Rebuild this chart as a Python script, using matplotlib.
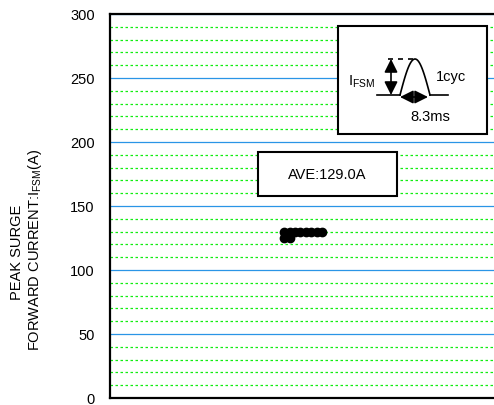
import matplotlib
matplotlib.use("Agg")
import matplotlib.pyplot as plt
import numpy as np

plt.rcParams['font.family'] = ['Liberation Sans', 'DejaVu Sans']
plt.rcParams['mathtext.fontset'] = 'custom'
plt.rcParams['mathtext.rm'] = 'Liberation Sans'

# data: sample positions and peak surge current values (A)
sample_x = [0, 1, 2, 3, 4, 5, 6, 7, 0, 1]
ifsm_values = [130, 130, 130, 130, 130, 130, 130, 130, 125, 125]
y_ticks = [0, 50, 100, 150, 200, 250, 300]
ave_label = "AVE:129.0A"

W, H = 494, 406
fig = plt.figure(figsize=(W / 100, H / 100), dpi=100)
ax = fig.add_axes([110 / W, (H - 399) / H, (W - 110 + 5) / W, 384 / H])

ax.set_ylim(0, 300)
ax.set_xlim(-32.5, 40)
ax.set_yticks(y_ticks)
minor = [v for v in range(0, 301, 10) if v % 50 != 0]
ax.set_yticks(minor, minor=True)
ax.set_xticks([])
ax.tick_params(axis='y', which='both', length=0, pad=11, labelsize=10.5)

ax.grid(True, which='major', axis='y', color='#2a95e6', lw=0.9, ls='-')
ax.grid(True, which='minor', axis='y', color='#11ee11', lw=0.9, ls=(0, (2, 2)))
ax.set_axisbelow(True)

for s in ['left', 'bottom', 'top']:
    ax.spines[s].set_linewidth(1.6)
    ax.spines[s].set_color('black')
ax.spines['right'].set_visible(False)

ax.plot(sample_x, ifsm_values, 'o', color='black', ms=6, zorder=5, clip_on=False)

def P(x, y):
    return (x / W, (H - y) / H)

tf = fig.transFigure

# AVE box
x0, y0 = P(258, 197)
x1, y1 = P(397, 153)
fig.patches.append(plt.Rectangle((x0, y0), x1 - x0, y1 - y0, transform=tf,
                                 facecolor='white', edgecolor='black', lw=1.5, zorder=10))
fig.text(*P(327.5, 175.5), ave_label, transform=tf, ha='center', va='center',
         fontsize=10.5, zorder=11)

# inset box
x0, y0 = P(338, 135)
x1, y1 = P(487, 27)
fig.patches.append(plt.Rectangle((x0, y0), x1 - x0, y1 - y0, transform=tf,
                                 facecolor='white', edgecolor='black', lw=1.5, zorder=10))

lw = 1.2
def line(xs, ys, **kw):
    pts = [P(x, y) for x, y in zip(xs, ys)]
    fig.add_artist(plt.Line2D([p[0] for p in pts], [p[1] for p in pts],
                              transform=tf, color='black', lw=lw, zorder=12, **kw))

# baseline and half-sine pulse
line([377, 400], [96, 96])
t = np.linspace(0, 1, 60)
line(list(400 + 30 * t), list(96 - 36 * np.sin(np.pi * t)))
line([430, 448], [96, 96])
line([388, 418], [60, 60], ls=(0, (3, 3)))

def darrow(xa, ya, xb, yb):
    fig.add_artist(matplotlib.patches.FancyArrowPatch(
        P(xa, ya), P(xb, yb), transform=tf, arrowstyle='<|-|>,head_length=5,head_width=2.5',
        color='black', lw=lw, zorder=13, shrinkA=0, shrinkB=0, mutation_scale=1.6))

darrow(391, 60, 391, 96)
darrow(400, 98, 428, 98)

fig.text(*P(348, 82), r'$\mathregular{I_{FSM}}$', transform=tf, ha='left', va='center',
         fontsize=10.5, zorder=14)
fig.text(*P(436, 77), '1cyc', transform=tf, ha='left', va='center', fontsize=10.5, zorder=14)
fig.text(*P(430, 117), '8.3ms', transform=tf, ha='center', va='center', fontsize=10.5, zorder=14)

# y label (two lines)
fig.text(*P(17, 252), 'PEAK SURGE', transform=tf, rotation=90, ha='center', va='center',
         fontsize=10.5)
fig.text(*P(35, 250), r'FORWARD CURRENT:I$\mathregular{_{FSM}}$(A)', transform=tf, rotation=90,
         ha='center', va='center', fontsize=10.5)

fig.savefig('out.png', dpi=100)
